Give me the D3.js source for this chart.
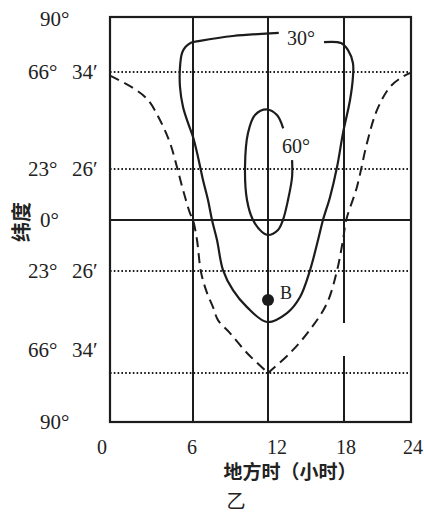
<!DOCTYPE html>
<html>
<head>
<meta charset="utf-8">
<script src="https://cdn.jsdelivr.net/npm/d3@7"></script>
<style>
  body { margin: 0; background: #fff; }
  svg { display: block; }
  .tick { font-family: "Liberation Serif", "DejaVu Serif", serif; fill: #222; }
  .cjk { font-family: "Noto Sans CJK SC", sans-serif; fill: #222; }
</style>
</head>
<body>
<svg id="chart" width="424" height="515"></svg>
<script>
// hours on x, latitude on y (north positive)
const hourTicks = [0, 6, 12, 18, 24];
const latTicks = [90, 66.57, 23.43, 0, -23.43, -66.57, -90];
const latLabels = [["90°"], ["66°", "34′"], ["23°", "26′"], ["0°"], ["23°", "26′"], ["66°", "34′"], ["90°"]];

// dashed curve (sun elevation 0°)
const dashLeft = [
  [0, 65], [1.66, 59.5], [2.75, 54.1], [3.61, 45.2], [4.34, 35], [4.84, 24.3],
  [5.28, 13.8], [5.78, 3.2], [6, 0], [6.32, -9.2], [6.64, -23.9], [7.12, -32.7],
  [7.6, -38.7], [8, -44.2], [8.96, -49.7], [10.32, -58.1], [12, -66.57]
];
const dashRight = [
  [12, -66.57], [13.74, -58.1], [15.3, -48.4], [16.66, -37], [17.45, -23.2],
  [17.92, -9.2], [18.2, 0], [19.16, 15.2], [20.06, 35], [20.96, 49.7],
  [22.12, 59.9], [23.3, 64.6], [24, 66.3]
];

// 30° contour (open at the label)
const line30 = [
  [12.85, 83.2], [9.2, 81.9], [6.56, 79.8], [5.85, 79], [5.45, 77.2], [5.21, 74.7], [5.06, 68.7],
  [5.06, 59.9], [5.28, 51], [5.64, 43.9], [6, 37.7], [6.4, 28.8], [6.8, 18.4],
  [7.2, 9.2], [7.52, 0], [7.92, -9.2], [8.4, -23], [9.2, -31.5], [10.32, -38.7],
  [11.92, -45], [13.5, -41.2], [14.53, -34.4], [15.32, -23], [15.95, -9.2],
  [16.34, 0], [16.9, 10.6], [17.45, 24.3], [17.92, 39.4], [18.54, 54.1],
  [18.8, 64.3], [18.8, 70.4], [18.36, 75.9], [17.76, 78.9], [16.42, 79.3]
];

// 60° contour (open at the label)
const line60 = [
  [13.2, 41.5], [12.71, 47.4], [11.92, 49.9], [10.96, 47.4], [10.4, 39.4],
  [10.16, 24.3], [10.32, 9.2], [10.8, 0], [11.52, -5.5], [12, -6.9],
  [12.79, -4.6], [13.18, 0], [13.58, 9.2], [13.9, 19.75], [13.9, 27.4]
];

const pointB = [12, -35.7];
const gap18 = [-45.4, -59.4];

const svg = d3.select("#chart");
const ink = "#1c1c1c";

const x = d3.scaleLinear().domain(hourTicks).range([110, 193, 268, 344, 411]);
const y = d3.scaleLinear().domain(latTicks).range([17, 72, 169, 220, 271, 373, 422]);

// dotted tropic / polar circle lines
svg.selectAll(".dot-line")
  .data(latTicks.filter(d => Math.abs(d) > 1 && Math.abs(d) < 89))
  .enter().append("line")
  .attr("x1", x(0)).attr("x2", x(24))
  .attr("y1", d => y(d)).attr("y2", d => y(d))
  .attr("stroke", ink).attr("stroke-width", 1.8)
  .attr("stroke-dasharray", "1.6,2.2");

// equator
svg.append("line")
  .attr("x1", x(0)).attr("x2", x(24)).attr("y1", y(0)).attr("y2", y(0))
  .attr("stroke", ink).attr("stroke-width", 2);

// hour grid lines (18h has a gap)
[6, 12].forEach(h => {
  svg.append("line")
    .attr("x1", x(h)).attr("x2", x(h)).attr("y1", y(90)).attr("y2", y(-90))
    .attr("stroke", ink).attr("stroke-width", 2);
});
[[90, gap18[0]], [gap18[1], -90]].forEach(([a, b]) => {
  svg.append("line")
    .attr("x1", x(18)).attr("x2", x(18)).attr("y1", y(a)).attr("y2", y(b))
    .attr("stroke", ink).attr("stroke-width", 2);
});

// frame
svg.append("rect")
  .attr("x", x(0)).attr("y", y(90))
  .attr("width", x(24) - x(0)).attr("height", y(-90) - y(90))
  .attr("fill", "none").attr("stroke", ink).attr("stroke-width", 2.2);

const line = d3.line().x(d => x(d[0])).y(d => y(d[1])).curve(d3.curveCatmullRom.alpha(0.5));

[dashLeft, dashRight].forEach(pts => {
  svg.append("path").attr("d", line(pts))
    .attr("fill", "none").attr("stroke", ink).attr("stroke-width", 2)
    .attr("stroke-dasharray", "10,6");
});

[line30, line60].forEach(pts => {
  svg.append("path").attr("d", line(pts))
    .attr("fill", "none").attr("stroke", ink).attr("stroke-width", 2.2);
});

svg.append("circle")
  .attr("cx", x(pointB[0])).attr("cy", y(pointB[1])).attr("r", 6)
  .attr("fill", ink);

svg.append("text").attr("class", "tick")
  .attr("x", x(pointB[0]) + 12).attr("y", y(pointB[1]) - 1)
  .style("font-size", "18px").text("B");

svg.append("text").attr("class", "tick")
  .attr("x", 287).attr("y", 45).style("font-size", "20px").text("30°");
svg.append("text").attr("class", "tick")
  .attr("x", 282).attr("y", 153).style("font-size", "20px").text("60°");

// latitude labels
const latNudge = [2, 0, 0, 0, 0, -23, 0];
latTicks.forEach((lat, i) => {
  const parts = latLabels[i];
  const t = svg.append("text").attr("class", "tick")
    .attr("y", y(lat) + latNudge[i] + 7)
    .style("font-size", "21px");
  if (parts.length === 1) {
    t.append("tspan").attr("x", 40).text(parts[0]);
  } else {
    t.append("tspan").attr("x", 28).text(parts[0]);
    t.append("tspan").attr("x", 72).text(parts[1]);
  }
});

// hour labels
const hourNudge = [-8, -1, 9, 2, 2];
svg.selectAll(".hour-label")
  .data(hourTicks)
  .enter().append("text").attr("class", "tick")
  .attr("x", (d, i) => x(d) + hourNudge[i])
  .attr("y", 454)
  .attr("text-anchor", "middle")
  .style("font-size", "20px")
  .text(d => d);

svg.append("text").attr("class", "cjk")
  .attr("x", 290).attr("y", 479)
  .attr("text-anchor", "middle")
  .style("font-size", "19px").style("font-weight", "bold")
  .text("地方时（小时）");

svg.append("text").attr("class", "cjk")
  .attr("transform", "translate(29,222) rotate(-90)")
  .attr("text-anchor", "middle")
  .style("font-size", "20px").style("font-weight", "bold")
  .text("纬度");

svg.append("text").attr("class", "cjk")
  .attr("x", 236).attr("y", 508)
  .attr("text-anchor", "middle")
  .style("font-size", "19px")
  .text("乙");
</script>
</body>
</html>
